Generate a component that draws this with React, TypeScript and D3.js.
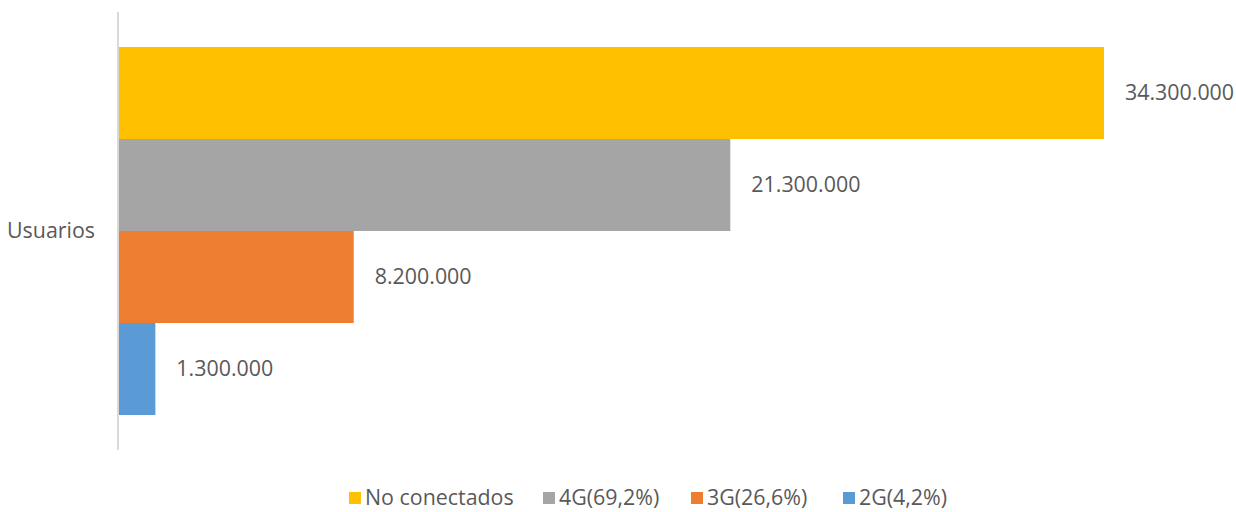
import React from "react";
import * as d3 from "d3";

const categories = ["Usuarios"];
const seriesNames = ["No conectados", "4G(69,2%)", "3G(26,6%)", "2G(4,2%)"];
const seriesValues = [34300000, 21300000, 8200000, 1300000];
const seriesColors = ["#FFC000", "#A5A5A5", "#ED7D31", "#5B9BD5"];

const W = 1236;
const H = 512;
const FONT = "'Open Sans', 'DejaVu Sans', sans-serif";
const TEXT = "#595959";
const FS = 21.4;

const fmt = (v: number) => d3.format(",")(v).replace(/,/g, ".");

export default function App() {
  const x = d3.scaleLinear().domain([0, 34300000]).range([118, 1104]);
  const y = d3.scaleBand<string>().domain(seriesNames).range([47, 415]).padding(0);
  const legendX = [349, 543, 691, 843];
  return (
    <svg width={W} height={H} style={{ position: "absolute", left: 0, top: 0 }}>
      <rect x={0} y={0} width={W} height={H} fill="#fff" />
      {seriesNames.map((s, i) => (
        <g key={s}>
          <rect x={x(0)} y={y(s)!} width={x(seriesValues[i]) - x(0)} height={y.bandwidth()} fill={seriesColors[i]} />
          <text
            x={x(seriesValues[i]) + 21}
            y={y(s)! + y.bandwidth() / 2}
            dy="0.35em"
            fontFamily={FONT}
            fontSize={FS}
            fill={TEXT}
          >
            {fmt(seriesValues[i])}
          </text>
        </g>
      ))}
      <line x1={118} x2={118} y1={12} y2={450} stroke="#D9D9D9" strokeWidth={2} />
      <text x={95} y={231} dy="0.35em" textAnchor="end" fontFamily={FONT} fontSize={FS} fill={TEXT}>
        {categories[0]}
      </text>
      {seriesNames.map((s, i) => (
        <g key={"lg" + s}>
          <rect x={legendX[i]} y={492} width={12} height={12} fill={seriesColors[i]} />
          <text x={legendX[i] + 16} y={498} dy="0.35em" fontFamily={FONT} fontSize={FS} fill={TEXT}>
            {s}
          </text>
        </g>
      ))}
    </svg>
  );
}
